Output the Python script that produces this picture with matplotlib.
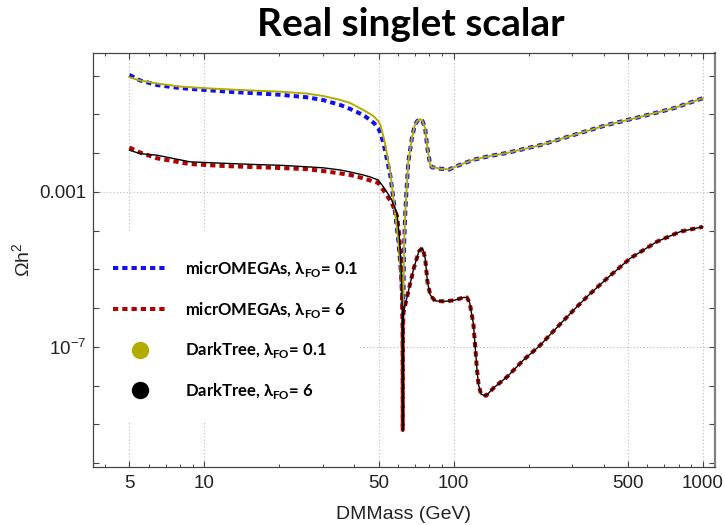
import matplotlib
matplotlib.use("Agg")
import matplotlib.pyplot as plt
from matplotlib.lines import Line2D
from matplotlib.patches import Rectangle
from matplotlib.ticker import FixedLocator, NullFormatter, FixedFormatter

plt.rcParams['mathtext.fontset'] = 'custom'
plt.rcParams['mathtext.rm'] = 'Liberation Sans'
plt.rcParams['mathtext.bf'] = 'Lato:bold'

# ---------------- data (Omega h^2 vs DM mass in GeV) ----------------
mass_01 = [5, 5.5, 6.45, 8, 10, 13, 16.2, 20, 25.7, 30, 35.06, 38.46, 43.37, 46.28,
           48.1, 49.83, 50.85, 51.7, 52.7, 53.65, 55.68, 57.77, 59.96, 61.64, 62.5,
           62.9, 63.3, 64,
           64.9, 65.8, 68, 69.9, 71.5, 73.5, 75, 76.9, 78.5, 80.6, 82, 84.2,
           88, 92.3, 96, 101.3, 110, 120, 140, 164, 223, 303, 413, 562, 765, 1000]
omega_micro_01 = [1.05, 0.76, 0.575, 0.48, 0.43, 0.38, 0.352, 0.324, 0.278, 0.235, 0.176,
                  0.139, 0.097, 0.0721,
                  0.0586, 0.0436, 0.0334, 0.0233, 0.0145, 0.0085, 0.00275, 4.6e-4,
                  5.8e-5, 7.2e-6, 1.2e-6,
                  2.2e-6, 4.3e-5, 3.1e-4,
                  1.5e-3, 6.0e-3, 0.0245, 0.0537, 0.068, 0.076, 0.068, 0.0437, 0.0135,
                  5.0e-3, 4.3e-3, 4.27e-3, 4.0e-3, 3.9e-3, 3.8e-3, 4.47e-3, 5.5e-3, 6.76e-3,
                  8.5e-3, 0.0102, 0.0162, 0.0295, 0.0537, 0.087, 0.145, 0.263]
omega_dark_01 = [0.91, 0.76, 0.63, 0.525, 0.478, 0.437, 0.411, 0.389, 0.347, 0.30, 0.237,
                 0.198, 0.131, 0.103,
                 0.0861, 0.0679, 0.0536, 0.0353, 0.0220, 0.0121, 0.00328, 4.6e-4,
                 5.8e-5, 7.2e-6, 1.2e-6,
                 2.2e-6, 4.3e-5, 3.1e-4,
                 1.5e-3, 6.0e-3, 0.0245, 0.0537, 0.068, 0.076, 0.068, 0.0437, 0.0135,
                 5.0e-3, 4.3e-3, 4.27e-3, 4.0e-3, 3.9e-3, 3.8e-3, 4.47e-3, 5.5e-3, 6.76e-3,
                 8.5e-3, 0.0102, 0.0162, 0.0295, 0.0537, 0.087, 0.145, 0.263]

mass_6 = [5, 5.5, 6.45, 8.75, 12, 16.2, 20, 25.7, 30, 35.06, 38.46, 43.37, 46.28, 49.83,
          53.0, 56.5, 59.3, 60.5, 61.4, 62.0, 62.4, 62.5, 62.6, 63.0, 63.5, 65.8, 69.2,
          72.5, 75, 76.9, 78.5, 80.6, 84.2, 92.3, 101.3, 109.6, 113, 116, 118, 120, 122,
          124, 126, 129, 135, 145, 164, 190, 223, 260, 303, 350, 413, 512, 656, 813, 1000]
omega_micro_6 = [0.0141, 0.0105, 0.0074, 0.00525, 0.00468, 0.00437, 0.00417, 0.00389,
                 0.00347, 0.00302, 0.00275, 0.00226, 0.00198, 0.00171,
                 9.7e-4, 5.2e-4, 2.4e-4, 7.8e-5, 1.56e-5, 2.95e-6, 3.2e-7, 7.2e-10, 3.2e-7,
                 8.0e-7, 1.0e-6, 2.7e-6, 1.07e-5,
                 2.9e-5, 3.6e-5, 1.95e-5, 4.9e-6, 2.2e-6, 1.55e-6, 1.5e-6, 1.62e-6, 1.9e-6,
                 1.9e-6, 1.4e-6, 7.4e-7, 4.1e-7, 1.1e-7,
                 2.8e-8, 1.05e-8, 6.0e-9, 5.5e-9, 8.9e-9, 1.7e-8, 4.5e-8, 1.12e-7, 3.2e-7,
                 8.9e-7, 2.24e-6, 5.9e-6, 1.95e-5, 5.25e-5, 9.5e-5, 1.26e-4]
omega_dark_6 = [0.0120, 0.0098, 0.0089, 0.0060, 0.0055, 0.0051, 0.0049, 0.00447,
                0.0042, 0.0037, 0.00328, 0.00275, 0.00244, 0.00204,
                1.2e-3, 6.2e-4, 2.7e-4, 7.8e-5, 1.56e-5, 2.95e-6, 3.2e-7, 7.2e-10, 3.2e-7,
                8.0e-7, 1.0e-6, 2.7e-6, 1.07e-5,
                2.9e-5, 3.6e-5, 1.95e-5, 4.9e-6, 2.2e-6, 1.55e-6, 1.5e-6, 1.62e-6, 1.9e-6,
                1.9e-6, 1.4e-6, 7.4e-7, 4.1e-7, 1.1e-7,
                2.8e-8, 1.05e-8, 6.0e-9, 5.5e-9, 8.9e-9, 1.7e-8, 4.5e-8, 1.12e-7, 3.2e-7,
                8.9e-7, 2.24e-6, 5.9e-6, 1.95e-5, 5.25e-5, 9.5e-5, 1.26e-4]

x_ticks = [5, 10, 50, 100, 500, 1000]
x_tick_labels = ['5', '10', '50', '100', '500', '1000']
y_label_ticks = [1e-3, 1e-7]
y_tick_labels = ['0.001', r'$\mathregular{10^{-7}}$']

legend_labels = [r'micrOMEGAs, λ$_{\mathbf{FO}}$= 0.1',
                 r'micrOMEGAs, λ$_{\mathbf{FO}}$= 6',
                 r'DarkTree, λ$_{\mathbf{FO}}$= 0.1',
                 r'DarkTree, λ$_{\mathbf{FO}}$= 6']

# ---------------- figure ----------------
W, H = 725, 525
fig = plt.figure(figsize=(W / 100, H / 100), dpi=100)
ax = fig.add_axes([93 / W, 58 / H, 622 / W, 414 / H])
ax.set_xscale('log')
ax.set_yscale('log')
ax.set_xlim(3.57, 1120)
ax.set_ylim(8.0e-11, 3.86)

blue = '#1010f0'
red = '#b00000'
yellow = '#b3ac00'

ax.plot(mass_01, omega_micro_01, color=blue, lw=2.9, dashes=(1.3, 1.0),
        dash_capstyle='butt', zorder=3)
ax.plot(mass_01, omega_dark_01, color=yellow, lw=1.4, zorder=4)
ax.plot(mass_6, omega_micro_6, color=red, lw=2.9, dashes=(1.3, 1.0),
        dash_capstyle='butt', zorder=3)
ax.plot(mass_6, omega_dark_6, color='black', lw=1.0, zorder=4)

# dotted grid at labelled positions
for xv in x_ticks:
    ax.axvline(xv, color='#b8b8b8', lw=0.8, ls=(0, (1, 2)), zorder=1)
for yv in y_label_ticks:
    ax.axhline(yv, color='#b8b8b8', lw=0.8, ls=(0, (1, 2)), zorder=1)

# ticks
minor_x = [4, 6, 7, 8, 9, 20, 30, 40, 60, 70, 80, 90, 200, 300, 400, 600, 700, 800, 900]
ax.xaxis.set_major_locator(FixedLocator(x_ticks))
ax.xaxis.set_major_formatter(FixedFormatter(x_tick_labels))
ax.xaxis.set_minor_locator(FixedLocator(minor_x))
ax.xaxis.set_minor_formatter(NullFormatter())
y_dec = [10.0 ** k for k in range(-10, 1)]
ax.yaxis.set_major_locator(FixedLocator(y_dec))
ax.yaxis.set_major_formatter(FixedFormatter(
    [y_tick_labels[y_label_ticks.index(v)] if v in y_label_ticks else '' for v in y_dec]))
ax.yaxis.set_minor_locator(FixedLocator([]))

ax.tick_params(axis='both', which='major', direction='in', top=True, right=True,
               length=4.5, width=0.8, color='#444444', labelcolor='#222222',
               labelsize=13.5)
ax.tick_params(axis='x', which='major', pad=6)
ax.tick_params(axis='y', which='major', pad=5)
ax.tick_params(axis='both', which='minor', direction='in', top=True, right=True,
               length=2.5, width=0.7, color='#444444')
for lab in ax.get_xticklabels() + ax.get_yticklabels():
    lab.set_family('Liberation Sans')

for s in ax.spines.values():
    s.set_color('#444444')
    s.set_linewidth(0.9)
ax.spines['right'].set_color('#808080')
ax.spines['right'].set_linewidth(1.6)

ax.set_xlabel('DMMass (GeV)', family='Liberation Sans', size=14, color='#222222',
              labelpad=10)
ax.set_ylabel(r'$\mathregular{\Omega h^2}$', family='Liberation Sans', size=14,
              color='#222222', labelpad=4)

fig.text(411 / W, 1 - 25 / H, 'Real singlet scalar', family='Lato', weight='bold',
         size=28, ha='center', va='center', color='black')

# white legend background
ax.add_patch(Rectangle((0.011, 0.106), 0.418, 0.459, transform=ax.transAxes,
                       facecolor='white', edgecolor='none', zorder=4.5))

handles = [
    Line2D([], [], color=blue, lw=2.9, dashes=(1.3, 1.0), dash_capstyle='butt'),
    Line2D([], [], color=red, lw=2.9, dashes=(1.3, 1.0), dash_capstyle='butt'),
    Line2D([], [], color=yellow, lw=0, marker='o', markersize=11.5),
    Line2D([], [], color='black', lw=0, marker='o', markersize=11.5),
]
leg = ax.legend(handles, legend_labels, loc='upper left',
                bbox_to_anchor=(0.032, 0.503), frameon=False,
                handlelength=3.2, handletextpad=1.15, labelspacing=1.25,
                borderpad=0, borderaxespad=0,
                prop=dict(family=['Lato', 'DejaVu Sans'], weight='bold', size=12))
leg.set_zorder(5)

fig.savefig('out.png', dpi=100)
